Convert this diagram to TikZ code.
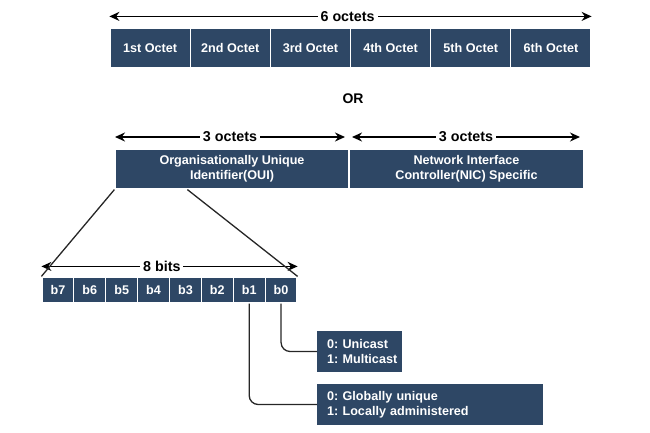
\documentclass[tikz,border=0pt]{standalone}
\usepackage{fontspec}
\setmainfont{Liberation Sans}
\usetikzlibrary{arrows.meta}
\definecolor{navy}{HTML}{2E4765}
\frenchspacing
\tikzset{
  boxfont/.style={font=\fontsize{12.6}{15}\selectfont\bfseries},
  cell/.style={fill=navy, draw=white, line width=1.2pt, text=white, boxfont, inner sep=0pt, align=center},
  bitcell/.style={cell, minimum width=31.875pt, minimum height=26pt},
  octcell/.style={cell, minimum width=80.17pt, minimum height=40pt},
  legend/.style={fill=navy, draw=none, text=white, boxfont, align=left, anchor=west, inner xsep=2pt, inner ysep=0pt, text width=#1, minimum height=41pt},
  dim/.style={arrows={Stealth[length=10pt,width=9pt]-Stealth[length=10pt,width=9pt]}, line width=1.5pt, black},
  dimlabel/.style={fill=white, font=\fontsize{14.3}{16}\selectfont\bfseries, inner sep=3pt},
  link/.style={line width=1.3pt, black!85},
}
\newcommand{\legline}[1]{\hspace*{8pt}\mbox{#1}}
\begin{document}
\begin{tikzpicture}[x=1pt,y=-1pt]
\useasboundingbox (0,0) rectangle (650,433);
% top row
\foreach \t [count=\i] in {1st,2nd,3rd,4th,5th,6th}{
  \node[octcell] (o\i) at ({110+40.08+(\i-1)*80.17},48) {\t\ Octet};
}
\draw[dim] ([yshift=11pt]o1.north west) -- ([yshift=11pt]o6.north east)
  node[dimlabel, pos=0.494] {6 octets};
\node[font=\fontsize{14}{16}\selectfont\bfseries] (or) at (353,99) {OR};
% second row
\node[cell, minimum width=234pt, minimum height=40pt] (oui) at (232,169) {Organisationally Unique\\Identifier(OUI)};
\node[cell, minimum width=235pt, minimum height=40pt] (nic) at (466.5,169) {Network Interface\\Controller(NIC) Specific};
\coordinate (l1) at (115,137);
\coordinate (l2) at (345,137);
\coordinate (r1) at (352,137);
\coordinate (r2) at (580,137);
\draw[dim] (l1) -- (l2) node[dimlabel, midway] {3 octets};
\draw[dim] (r1) -- (r2) node[dimlabel, midway] {3 octets};
% bits
\foreach \t [count=\i] in {7,6,5,4,3,2,1,0}{
  \node[bitcell] (b\t) at ({42+15.94+(\i-1)*31.875},290) {b\t};
}
\draw[dim] ([yshift=10pt]b7.north west) -- ([yshift=10pt]b0.north east)
  node[dimlabel, pos=0.47] {8 bits};
\draw[link] (oui.south west) -- (b7.north west);
\draw[link] ([xshift=73pt]oui.south west) -- (b0.north east);
% legends
\node[legend=81pt] (uni) at (317,351.5) {\legline{0: Unicast}\\\legline{1: Multicast}};
\node[legend=222pt] (glob) at (317,404.5) {\legline{0: Globally unique}\\\legline{1: Locally administered}};
\draw[link, rounded corners=9pt] (b0.south) |- (uni.west);
\draw[link, rounded corners=9pt] (b1.south) |- (glob.west);
\end{tikzpicture}
\end{document}
